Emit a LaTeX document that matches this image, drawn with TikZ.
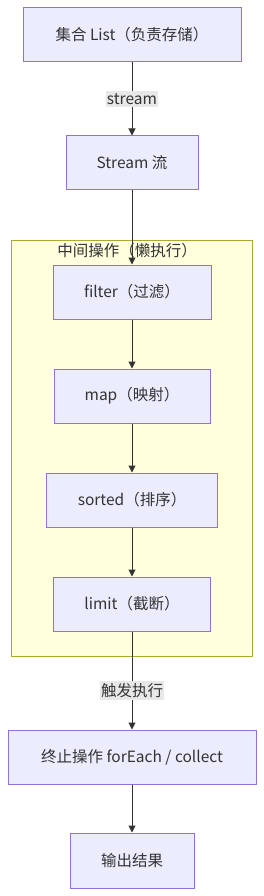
\documentclass[tikz,border=0pt]{standalone}
\usepackage{fontspec}
\setmainfont{Noto Sans CJK SC}
\usetikzlibrary{arrows.meta}
\definecolor{nodefill}{HTML}{ECECFF}
\definecolor{nodedraw}{HTML}{9370DB}
\definecolor{clfill}{HTML}{FFFFDE}
\definecolor{cldraw}{HTML}{AAAA33}
\definecolor{edgec}{HTML}{333333}
\definecolor{txt}{HTML}{333333}
\definecolor{lblbg}{HTML}{E8E8E8}
\tikzset{
  every node/.style={text=txt, font=\fontsize{15.5}{18}\selectfont},
  box/.style={draw=nodedraw, fill=nodefill, line width=1pt, inner sep=0pt},
  edge/.style={draw=edgec, line width=1pt, -{Triangle[width=7pt,length=7pt]}},
  elabel/.style={fill=lblbg, inner xsep=1pt, inner ysep=2.5pt, text=txt},
}
\begin{document}
\begin{tikzpicture}[x=1pt,y=-1pt]
\useasboundingbox (0,0) rectangle (264,896);
% cluster
\draw[draw=cldraw, fill=clfill, line width=1pt] (11,240) rectangle (252,656);
\node (cl) at (127,251) {中间操作（懒执行）};
% nodes
\node[box, minimum width=218pt, minimum height=54pt] (list) at (132,35) {集合 List（负责存储）};
\node[box, minimum width=132pt, minimum height=54pt] (stream) at (132,163) {Stream 流};
\node[box, minimum width=158pt, minimum height=54pt] (filter) at (132,292) {filter（过滤）};
\node[box, minimum width=156pt, minimum height=54pt] (map) at (132,396) {map（映射）};
\node[box, minimum width=171pt, minimum height=54pt] (sorted) at (132,500) {sorted（排序）};
\node[box, minimum width=157pt, minimum height=54pt] (limit) at (132,604) {limit（截断）};
\node[box, minimum width=248pt, minimum height=54pt] (term) at (132,757) {终止操作 forEach / collect};
\node[box, minimum width=124pt, minimum height=55pt] (out) at (132,860.5) {输出结果};
% edges
\draw[edge] (list) -- node[elabel] {stream} (stream);
\draw[edge] (stream) -- (filter);
\draw[edge] (filter) -- (map);
\draw[edge] (map) -- (sorted);
\draw[edge] (sorted) -- (limit);
\draw[edge] (limit) -- node[elabel, pos=0.6] {触发执行} (term);
\draw[edge] (term) -- (out);
\end{tikzpicture}
\end{document}
